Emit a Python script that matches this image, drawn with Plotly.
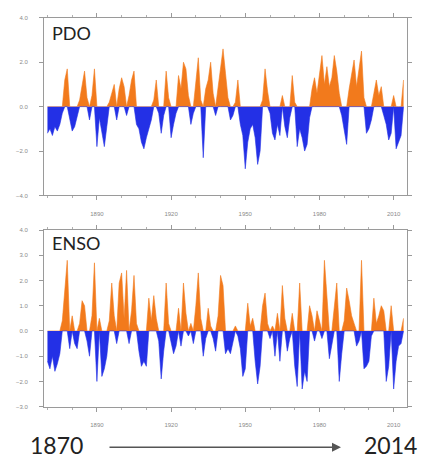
import plotly.graph_objects as go

years = list(range(1870, 2015))

pdo = [
    -1.2, -1.0, -1.3, -0.9, -1.1, -0.8, -0.3, 1.2, 1.7, -0.5,   # 1870-1879
    -1.1, -0.9, -0.4, 0.3, 1.0, 1.6, 0.4, -0.6, 0.5, 1.7,       # 1880-1889
    -1.8, -0.5, -1.2, -1.8, -0.9, 0.2, 0.6, 1.0, -0.6, 0.8,     # 1890-1899
    1.3, 0.9, -0.4, 0.5, 1.2, 1.6, -0.8, -1.0, -1.6, -1.9,      # 1900-1909
    -1.4, -1.0, -0.6, 0.3, 1.2, -0.3, -1.2, -0.4, 1.6, 0.4,     # 1910-1919
    -1.4, -0.8, -0.3, 1.4, 0.8, 2.0, 1.7, 0.5, -0.8, -0.3,      # 1920-1929
    1.0, 2.2, 0.3, -2.3, 0.8, 1.2, 2.0, 0.6, -0.4, 0.9,         # 1930-1939
    1.8, 2.6, 1.5, 0.4, -0.6, -0.4, 0.2, 1.2, -0.8, -1.3,       # 1940-1949
    -2.8, -1.6, -1.0, -0.8, -1.4, -2.6, -2.0, 0.3, 1.7, 0.7,    # 1950-1959
    -0.3, -1.2, -1.5, -0.8, -1.3, 0.5, -0.9, -1.4, -0.5, 1.4,   # 1960-1969
    0.2, -1.8, -1.0, -1.4, -2.0, -1.7, -0.5, 0.8, 1.3, 0.6,     # 1970-1979
    1.5, 2.3, 1.0, 1.8, 0.9, 1.3, 2.3, 1.6, 0.6, -0.4,          # 1980-1989
    -1.0, -1.7, 0.8, 1.4, 2.1, 0.9, 1.6, 2.5, 0.4, -1.2,        # 1990-1999
    -1.0, -0.6, 0.6, 1.2, 0.5, 0.9, -0.4, -0.8, -1.5, -1.2,     # 2000-2009
    0.5, -1.9, -1.6, -1.3, 1.2,                                 # 2010-2014
]

enso = [
    -1.2, -1.5, -1.0, -1.6, -1.3, -0.9, 0.4, 1.5, 2.8, -0.7,    # 1870-1879
    0.6, -0.5, -0.7, 0.3, 1.2, 1.0, -0.4, -1.0, 0.6, 2.7,       # 1880-1889
    -2.0, 0.5, -1.8, -1.5, -1.0, 0.4, 1.9, 0.6, -0.5, 1.9,      # 1890-1899
    2.3, 0.5, 2.4, -0.5, 0.8, 2.2, 0.3, -0.8, -1.4, -1.2,       # 1900-1909
    -1.4, 1.3, 0.4, 1.4, 0.5, -0.4, -1.9, -0.8, 1.9, 0.3,       # 1910-1919
    -0.5, -0.9, -0.6, 0.9, -0.6, 1.9, 0.7, -0.2, 0.3, -0.5,     # 1920-1929
    1.0, 2.3, 0.5, -1.0, -0.3, 0.9, 0.2, -0.3, -0.8, 0.6,       # 1930-1939
    2.2, 1.8, -0.9, -0.7, -0.9, -0.5, 0.2, -0.2, -0.7, -1.8,    # 1940-1949
    -1.5, 1.1, 0.2, 0.5, -1.2, -2.1, -1.4, 1.0, 1.5, 0.3,       # 1950-1959
    -0.3, 0.2, -1.0, 0.7, -1.2, 1.8, 0.5, -0.8, -0.3, 0.7,      # 1960-1969
    -1.4, -2.2, 1.9, -2.3, -1.6, -2.0, 1.0, 0.6, -0.4, 0.8,     # 1970-1979
    0.4, -0.3, 2.8, 1.5, -1.1, -0.6, 0.9, 1.9, -2.0, -0.9,      # 1980-1989
    0.4, 1.7, 1.2, 0.6, 0.3, -0.6, -0.4, 2.8, -1.5, -1.4,       # 1990-1999
    -1.2, -0.2, 1.3, 0.3, 0.6, 1.0, 0.8, -2.0, -1.4, 1.0,       # 2000-2009
    -2.3, -1.2, -0.6, -0.5, 0.5,                                # 2010-2014
]

x_ticks = [1890, 1920, 1950, 1980, 2010]
pdo_yticks = [-4, -2, 0, 2, 4]
enso_yticks = [-3, -2, -1, 0, 1, 2, 3, 4]
panel_names = ["PDO", "ENSO"]
span_labels = ["1870", "2014"]

ORANGE = "#F27A1C"
BLUE = "#2330E6"
W, H = 421, 462

fig = go.Figure()


def add_panel(vals, xa, ya):
    pos = [v if v > 0 else 0 for v in vals]
    neg = [v if v < 0 else 0 for v in vals]
    fig.add_trace(go.Scatter(x=years, y=pos, mode="lines", fill="tozeroy",
                             line=dict(color=ORANGE, width=0.6),
                             fillcolor=ORANGE, xaxis=xa, yaxis=ya,
                             showlegend=False, hoverinfo="skip"))
    fig.add_trace(go.Scatter(x=years, y=neg, mode="lines", fill="tozeroy",
                             line=dict(color=BLUE, width=0.6),
                             fillcolor=BLUE, xaxis=xa, yaxis=ya,
                             showlegend=False, hoverinfo="skip"))


add_panel(pdo, "x", "y")
add_panel(enso, "x2", "y2")

xdom = [44 / W, 407 / W]
top_dom = [1 - 195 / H, 1 - 15 / H]
bot_dom = [1 - 409 / H, 1 - 230 / H]

axis_common = dict(showline=True, linecolor="#9a9a9a", linewidth=1,
                   mirror="ticks", ticks="outside", ticklen=4,
                   tickcolor="#9a9a9a", showgrid=False, zeroline=False,
                   tickfont=dict(size=6, color="#8a8a8a", family="Liberation Sans"))

xaxis_common = dict(axis_common, range=[1868.6, 2015.4], tickvals=x_ticks,
                    ticktext=[str(t) for t in x_ticks], ticklabelstandoff=8,
                    minor=dict(dtick=10, tick0=1870, ticks="outside", ticklen=2,
                               tickcolor="#b0b0b0"))

fig.update_layout(
    width=W, height=H,
    margin=dict(l=0, r=0, t=0, b=0),
    plot_bgcolor="white", paper_bgcolor="white",
    xaxis=dict(xaxis_common, domain=xdom, anchor="y"),
    yaxis=dict(axis_common, domain=top_dom, anchor="x", range=[-4, 4],
               tickvals=pdo_yticks, tickformat=".1f", ticklabelstandoff=10),
    xaxis2=dict(xaxis_common, domain=xdom, anchor="y2"),
    yaxis2=dict(axis_common, domain=bot_dom, anchor="x2", range=[-3, 4],
                tickvals=enso_yticks, tickformat=".1f", ticklabelstandoff=10),
)

fig.add_annotation(x=50 / W, y=1 - 30 / H, xref="paper", yref="paper",
                   text=panel_names[0], showarrow=False, xanchor="left",
                   yanchor="middle", font=dict(size=18, color="#222", family="Lato"))
fig.add_annotation(x=50 / W, y=1 - 243 / H, xref="paper", yref="paper",
                   text=panel_names[1], showarrow=False, xanchor="left",
                   yanchor="middle", font=dict(size=18, color="#222", family="Lato"))

fig.add_annotation(x=28 / W, y=1 - 448 / H, xref="paper", yref="paper",
                   text=span_labels[0], showarrow=False, xanchor="left",
                   yanchor="middle", font=dict(size=23, color="#222", family="Lato"))
fig.add_annotation(x=362 / W, y=1 - 448 / H, xref="paper", yref="paper",
                   text=span_labels[1], showarrow=False, xanchor="left",
                   yanchor="middle", font=dict(size=23, color="#222", family="Lato"))
fig.add_annotation(x=341 / W, y=1 - 450 / H, xref="paper", yref="paper",
                   ax=-233, ay=0, text="", showarrow=True, arrowhead=2,
                   arrowsize=1.2, arrowwidth=1.5, arrowcolor="#555")

fig.write_html("out.html")
